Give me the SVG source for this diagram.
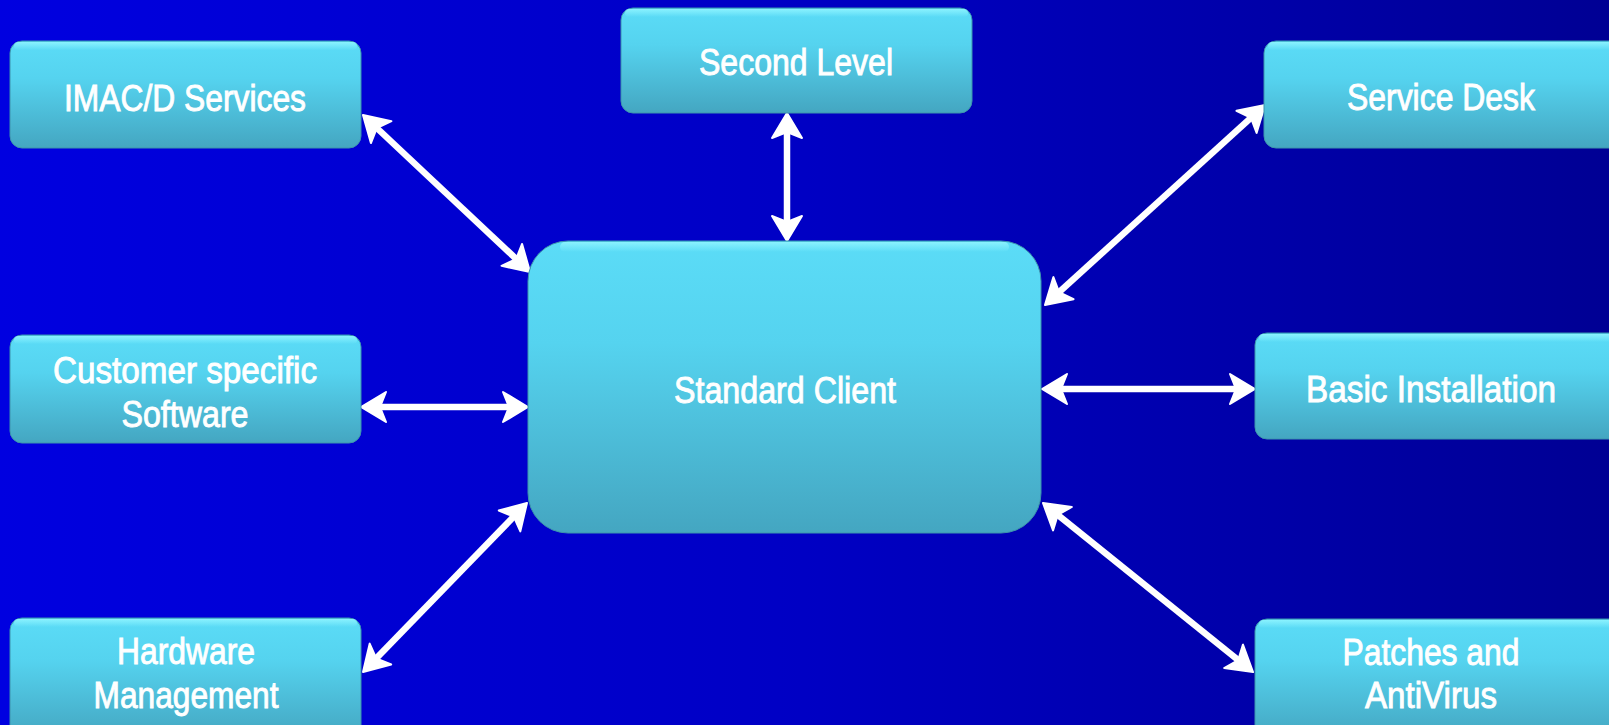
<svg xmlns="http://www.w3.org/2000/svg" width="1609" height="725" viewBox="0 0 1609 725">
<defs>
<linearGradient id="bg" x1="0" y1="0" x2="1" y2="0">
<stop offset="0" stop-color="#0000e0"/>
<stop offset="0.5" stop-color="#0000c4"/>
<stop offset="1" stop-color="#000094"/>
</linearGradient>
<linearGradient id="box" x1="0" y1="0" x2="0" y2="1">
<stop offset="0" stop-color="#5bdcf7"/>
<stop offset="0.35" stop-color="#55d3ef"/>
<stop offset="1" stop-color="#44a6c1"/>
</linearGradient>
<linearGradient id="hl" x1="0" y1="0" x2="0" y2="1">
<stop offset="0" stop-color="#8ff4ff" stop-opacity="0.9"/>
<stop offset="1" stop-color="#8ff4ff" stop-opacity="0"/>
</linearGradient>
<marker id="ah" markerUnits="userSpaceOnUse" markerWidth="50" markerHeight="50" refX="0" refY="0" orient="auto-start-reverse" overflow="visible" viewBox="-25 -25 50 50">
<path d="M8,0 L-17,-15 L-11,0 L-17,15 Z" fill="#ffffff" stroke="#ffffff" stroke-width="2" stroke-linejoin="round"/>
</marker>
</defs>
<style>
.node rect.b{fill:url(#box);stroke:#3d94ad;stroke-width:1}
.node rect.h{fill:url(#hl)}
.node text{font-family:"Liberation Sans Narrow","Liberation Sans",Arial,sans-serif;font-size:37px;fill:#ffffff;stroke:#ffffff;stroke-width:0.9;text-anchor:middle}
.conn line{stroke:#ffffff;stroke-width:6.5;marker-start:url(#ah);marker-end:url(#ah)}
</style>
<rect x="0" y="0" width="1609" height="725" fill="url(#bg)"/>

<g class="conn" id="connectors">
<line x1="368.8" y1="120.5" x2="524.2" y2="266.5"/>
<line x1="787" y1="121" x2="787" y2="233"/>
<line x1="1050.9" y1="299.6" x2="1259.1" y2="110.4"/>
<line x1="369" y1="407" x2="520" y2="407"/>
<line x1="1050" y1="389" x2="1247" y2="389"/>
<line x1="368.6" y1="666.3" x2="521.4" y2="508.7"/>
<line x1="1049.2" y1="508" x2="1246.8" y2="667"/>
</g>

<g class="node" id="imacd">
<rect class="b" x="10" y="41" width="351" height="107" rx="12"/>
<rect class="h" x="14" y="42" width="343" height="8" rx="4"/>
<text x="185" y="111" textLength="242" lengthAdjust="spacingAndGlyphs">IMAC/D Services</text>
</g>
<g class="node" id="second-level">
<rect class="b" x="621" y="8" width="351" height="105" rx="12"/>
<rect class="h" x="625" y="9" width="343" height="8" rx="4"/>
<text x="796" y="75" textLength="194" lengthAdjust="spacingAndGlyphs">Second Level</text>
</g>
<g class="node" id="service-desk">
<rect class="b" x="1264" y="41" width="360" height="107" rx="12"/>
<rect class="h" x="1268" y="42" width="350" height="8" rx="4"/>
<text x="1441" y="110" textLength="188" lengthAdjust="spacingAndGlyphs">Service Desk</text>
</g>
<g class="node" id="standard-client">
<rect class="b" x="528" y="241" width="513" height="292" rx="40"/>
<rect class="h" x="560" y="242" width="449" height="10" rx="5"/>
<text x="785" y="403" textLength="222" lengthAdjust="spacingAndGlyphs">Standard Client</text>
</g>
<g class="node" id="customer-software">
<rect class="b" x="10" y="335" width="351" height="108" rx="12"/>
<rect class="h" x="14" y="336" width="343" height="8" rx="4"/>
<text x="185" y="383" textLength="264" lengthAdjust="spacingAndGlyphs">Customer specific</text>
<text x="185" y="427" textLength="127" lengthAdjust="spacingAndGlyphs">Software</text>
</g>
<g class="node" id="basic-installation">
<rect class="b" x="1255" y="333" width="370" height="106" rx="12"/>
<rect class="h" x="1259" y="334" width="360" height="8" rx="4"/>
<text x="1431" y="402" textLength="250" lengthAdjust="spacingAndGlyphs">Basic Installation</text>
</g>
<g class="node" id="hardware-management">
<rect class="b" x="10" y="618" width="351" height="120" rx="12"/>
<rect class="h" x="14" y="619" width="343" height="8" rx="4"/>
<text x="186" y="664" textLength="138" lengthAdjust="spacingAndGlyphs">Hardware</text>
<text x="186" y="708" textLength="185" lengthAdjust="spacingAndGlyphs">Management</text>
</g>
<g class="node" id="patches-antivirus">
<rect class="b" x="1255" y="619" width="370" height="120" rx="12"/>
<rect class="h" x="1259" y="620" width="360" height="8" rx="4"/>
<text x="1431" y="665" textLength="177" lengthAdjust="spacingAndGlyphs">Patches and</text>
<text x="1431" y="708" textLength="132" lengthAdjust="spacingAndGlyphs">AntiVirus</text>
</g>
</svg>
